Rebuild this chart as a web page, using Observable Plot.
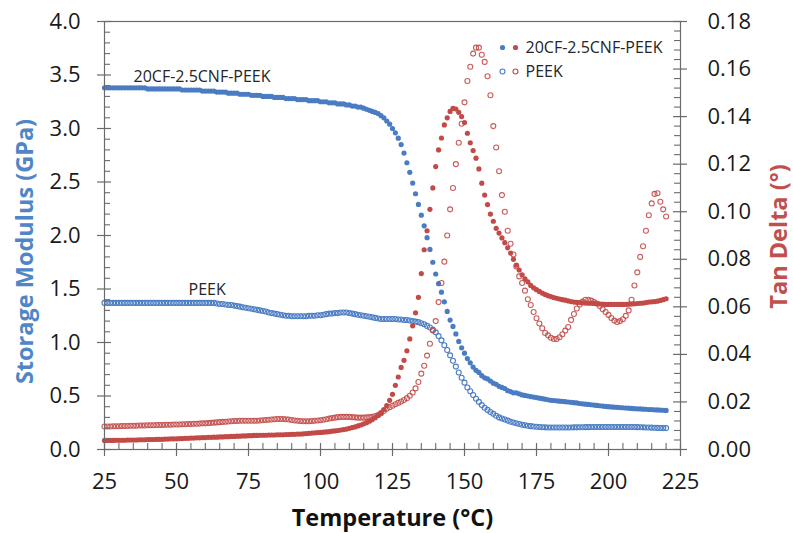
<!DOCTYPE html>
<html>
<head>
<meta charset="utf-8">
<script src="https://cdn.jsdelivr.net/npm/d3@7"></script>
<script src="https://cdn.jsdelivr.net/npm/@observablehq/plot@0.6"></script>
<style>
  html, body { margin: 0; padding: 0; background: #fff; }
  #chart { width: 793px; height: 533px; }
</style>
</head>
<body>
<div id="chart"></div>
<script>
// Temperature (°C)
const temps = [
  25,26,27,28,29,30,31,32,33,34,35,36,37,38,39,40,41,42,43,44,45,46,47,48,49,50,51,52,53,54,
  55,56,57,58,59,60,61,62,63,64,65,66,67,68,69,70,71,72,73,74,75,76,77,78,79,80,81,82,83,84,
  85,86,87,88,89,90,91,92,93,94,95,96,97,98,99,100,101,102,103,104,105,106,107,108,109,110,111,112,113,114,
  115,116,117,118,119,120,121,122,123,124,125,126,127,128,129,130,131,132,133,134,135,136,137,138,139,140,141,142,143,144,
  145,146,147,148,149,150,151,152,153,154,155,156,157,158,159,160,161,162,163,164,165,166,167,168,169,170,171,172,173,174,
  175,176,177,178,179,180,181,182,183,184,185,186,187,188,189,190,191,192,193,194,195,196,197,198,199,200,201,202,203,204,
  205,206,207,208,209,210,211,212,213,214,215,216,217,218,219,220
];

// Storage modulus (GPa) – 20CF-2.5CNF-PEEK
const cnfModulus = [
  3.38,3.38,3.38,3.38,3.38,3.38,3.38,3.38,3.38,3.38,
  3.38,3.38,3.38,3.38,3.38,3.37,3.37,3.37,3.37,3.37,
  3.37,3.37,3.37,3.37,3.37,3.37,3.37,3.36,3.36,3.36,
  3.36,3.36,3.36,3.36,3.35,3.35,3.35,3.35,3.35,3.34,
  3.34,3.34,3.34,3.33,3.33,3.33,3.33,3.32,3.32,3.32,
  3.32,3.31,3.31,3.31,3.31,3.30,3.30,3.30,3.30,3.29,
  3.29,3.29,3.29,3.28,3.28,3.28,3.28,3.27,3.27,3.27,
  3.27,3.26,3.26,3.26,3.26,3.25,3.25,3.25,3.24,3.24,
  3.24,3.23,3.23,3.23,3.22,3.22,3.21,3.21,3.20,3.20,
  3.19,3.18,3.17,3.16,3.15,3.14,3.12,3.10,3.07,3.04,
  3.00,2.96,2.91,2.85,2.77,2.68,2.59,2.49,2.39,2.29,
  2.19,2.09,1.98,1.87,1.75,1.64,1.55,1.47,1.38,1.29,
  1.21,1.15,1.08,1.01,0.95,0.90,0.85,0.81,0.77,0.74,
  0.72,0.69,0.67,0.66,0.64,0.62,0.61,0.59,0.58,0.57,
  0.55,0.54,0.53,0.53,0.52,0.51,0.505,0.50,0.495,0.49,
  0.485,0.48,0.475,0.47,0.465,0.46,0.458,0.455,0.452,0.45,
  0.447,0.444,0.441,0.438,0.435,0.43,0.427,0.424,0.421,0.418,
  0.415,0.412,0.409,0.406,0.403,0.40,0.398,0.396,0.394,0.392,
  0.39,0.388,0.386,0.384,0.382,0.38,0.379,0.377,0.376,0.374,
  0.373,0.371,0.37,0.368,0.367,0.365
];

// Storage modulus (GPa) – PEEK
const peekModulus = [
  1.37,1.37,1.37,1.37,1.37,1.37,1.37,1.37,1.37,1.37,
  1.37,1.37,1.37,1.37,1.37,1.37,1.37,1.37,1.37,1.37,
  1.37,1.37,1.37,1.37,1.37,1.37,1.37,1.37,1.37,1.37,
  1.37,1.37,1.37,1.37,1.37,1.37,1.37,1.37,1.37,1.365,
  1.36,1.36,1.355,1.35,1.35,1.345,1.34,1.335,1.33,1.325,
  1.32,1.315,1.31,1.305,1.30,1.295,1.29,1.28,1.275,1.27,
  1.265,1.26,1.255,1.25,1.25,1.245,1.245,1.245,1.245,1.245,
  1.245,1.25,1.25,1.25,1.255,1.255,1.26,1.265,1.27,1.27,
  1.275,1.275,1.28,1.28,1.28,1.275,1.27,1.265,1.26,1.255,
  1.25,1.245,1.24,1.235,1.23,1.225,1.22,1.22,1.22,1.22,
  1.22,1.22,1.215,1.215,1.21,1.21,1.205,1.20,1.195,1.19,
  1.18,1.17,1.155,1.14,1.12,1.095,1.06,1.02,0.975,0.93,
  0.88,0.83,0.775,0.72,0.67,0.625,0.58,0.545,0.51,0.475,
  0.445,0.415,0.39,0.37,0.35,0.333,0.316,0.30,0.29,0.28,
  0.27,0.26,0.252,0.245,0.238,0.232,0.226,0.222,0.218,0.215,
  0.212,0.21,0.208,0.207,0.206,0.205,0.205,0.205,0.205,0.205,
  0.205,0.206,0.206,0.207,0.207,0.208,0.208,0.209,0.209,0.21,
  0.21,0.21,0.21,0.21,0.21,0.21,0.21,0.21,0.21,0.21,
  0.21,0.21,0.21,0.21,0.21,0.209,0.208,0.207,0.206,0.205,
  0.204,0.203,0.202,0.201,0.20,0.20
];

// Tan delta – 20CF-2.5CNF-PEEK
const cnfTanDelta = [
  0.0038,0.0038,0.0038,0.0038,0.0039,0.0039,0.0039,0.0039,0.0040,0.0040,
  0.0040,0.0040,0.0041,0.0041,0.0041,0.0042,0.0042,0.0042,0.0043,0.0043,
  0.0043,0.0044,0.0044,0.0045,0.0045,0.0045,0.0046,0.0046,0.0047,0.0047,
  0.0048,0.0048,0.0049,0.0049,0.0050,0.0050,0.0051,0.0051,0.0052,0.0052,
  0.0053,0.0053,0.0054,0.0054,0.0055,0.0055,0.0056,0.0056,0.0057,0.0057,
  0.0058,0.0058,0.0059,0.0059,0.0060,0.0060,0.0060,0.0061,0.0061,0.0061,
  0.0062,0.0062,0.0062,0.0063,0.0063,0.0064,0.0064,0.0065,0.0065,0.0066,
  0.0067,0.0068,0.0069,0.0070,0.0071,0.0072,0.0073,0.0074,0.0075,0.0077,
  0.0078,0.0080,0.0082,0.0084,0.0086,0.0089,0.0092,0.0095,0.0099,0.0103,
  0.0108,0.0113,0.0119,0.0126,0.0134,0.0143,0.0154,0.0168,0.0185,0.0207,
  0.0232,0.0270,0.0305,0.0345,0.0375,0.0415,0.0465,0.0520,0.0575,0.0640,
  0.0740,0.0840,0.0920,0.1010,0.1100,0.1190,0.1260,0.1310,0.1365,0.1395,
  0.1422,0.1435,0.1432,0.1418,0.1400,0.1375,0.1330,0.1290,0.1257,0.1225,
  0.1180,0.1120,0.1070,0.1030,0.0990,0.0960,0.0930,0.0910,0.0890,0.0870,
  0.0848,0.0826,0.0800,0.0775,0.0755,0.0735,0.0718,0.0705,0.0690,0.0680,
  0.0672,0.0665,0.0658,0.0652,0.0647,0.0643,0.0639,0.0636,0.0633,0.0630,
  0.0628,0.0625,0.0622,0.0620,0.0619,0.0618,0.0617,0.0616,0.0615,0.0615,
  0.0614,0.0613,0.0612,0.0611,0.0610,0.0610,0.0610,0.0610,0.0610,0.0610,
  0.0610,0.0610,0.0611,0.0612,0.0613,0.0614,0.0615,0.0616,0.0618,0.0620,
  0.0621,0.0622,0.0624,0.0627,0.0630,0.0634
];

// Tan delta – PEEK
const peekTanDelta = [
  0.0097,0.0097,0.0097,0.0098,0.0098,0.0098,0.0099,0.0099,0.0099,0.0100,
  0.0100,0.0100,0.0101,0.0101,0.0101,0.0102,0.0102,0.0102,0.0103,0.0103,
  0.0103,0.0104,0.0104,0.0104,0.0105,0.0105,0.0105,0.0106,0.0106,0.0107,
  0.0107,0.0108,0.0108,0.0109,0.0110,0.0110,0.0111,0.0112,0.0113,0.0114,
  0.0115,0.0116,0.0117,0.0118,0.0119,0.0120,0.0120,0.0121,0.0121,0.0121,
  0.0121,0.0121,0.0121,0.0121,0.0122,0.0123,0.0124,0.0125,0.0126,0.0127,
  0.0128,0.0128,0.0128,0.0127,0.0126,0.0124,0.0122,0.0121,0.0120,0.0119,
  0.0119,0.0119,0.0120,0.0121,0.0122,0.0123,0.0125,0.0127,0.0130,0.0132,
  0.0134,0.0136,0.0137,0.0137,0.0137,0.0137,0.0136,0.0135,0.0134,0.0134,
  0.0134,0.0135,0.0136,0.0138,0.0141,0.0145,0.0152,0.0162,0.0171,0.0178,
  0.0184,0.0190,0.0196,0.0202,0.0208,0.0216,0.0226,0.0240,0.0257,0.0284,
  0.0319,0.0352,0.0395,0.0445,0.0500,0.0540,0.0620,0.0700,0.0790,0.0900,
  0.1010,0.1100,0.1200,0.1290,0.1370,0.1460,0.1550,0.1610,0.1665,0.1690,
  0.1690,0.1660,0.1630,0.1570,0.1490,0.1360,0.1270,0.1170,0.1070,0.1000,
  0.0920,0.0865,0.0820,0.0770,0.0728,0.0700,0.0668,0.0632,0.0608,0.0578,
  0.0552,0.0530,0.0510,0.0490,0.0480,0.0470,0.0465,0.0465,0.0472,0.0485,
  0.0500,0.0515,0.0545,0.0570,0.0593,0.0610,0.0622,0.0630,0.0630,0.0626,
  0.0620,0.0614,0.0603,0.0590,0.0578,0.0566,0.0553,0.0542,0.0536,0.0540,
  0.0548,0.0562,0.0585,0.0630,0.0690,0.0745,0.0810,0.0855,0.0920,0.0985,
  0.1035,0.1075,0.1078,0.1042,0.1010,0.0980
];

// Tick labels
const tempTicks = [25, 50, 75, 100, 125, 150, 175, 200, 225];
const modulusTicks = [0, 0.5, 1.0, 1.5, 2.0, 2.5, 3.0, 3.5, 4.0];
const tanTicks = [0, 0.02, 0.04, 0.06, 0.08, 0.10, 0.12, 0.14, 0.16, 0.18];

const seriesNames = ["20CF-2.5CNF-PEEK", "PEEK"];
const xTitle = "Temperature (°C)";
const yLeftTitle = "Storage Modulus (GPa)";
const yRightTitle = "Tan Delta (°)";

// ---------------------------------------------------------------
const BLUE = "#4a7cc3";
const RED = "#c24a47";
const AXIS = "#6b6b6b";
const K = 4 / 0.18; // tan delta -> left-axis units

const rows = temps.map((t, i) => ({
  t,
  cnfE: cnfModulus[i],
  peekE: peekModulus[i],
  cnfTan: cnfTanDelta[i] * K,
  peekTan: peekTanDelta[i] * K
}));

const minorTemp = d3.range(30, 225, 5).filter(v => v % 25 !== 0);
const minorMod = d3.range(1, 40).filter(v => v % 5 !== 0).map(v => v / 10);
const minorTan = d3.range(1, 45).filter(v => v % 5 !== 0).map(v => v * 0.004 * K);
const tanTicksScaled = tanTicks.map(v => v * K);

const tickFont = 22;
const labelStyle = { textAnchor: "start", lineAnchor: "middle", fontSize: 16, fill: "#262626" };

const chart = Plot.plot({
  width: 793,
  height: 533,
  marginLeft: 104,
  marginRight: 113,
  marginTop: 21,
  marginBottom: 84,
  style: { fontFamily: "'Open Sans', sans-serif", background: "#fff", color: "#1a1a1a" },
  x: { domain: [25, 225] },
  y: { domain: [0, 4] },
  marks: [
    // data
    Plot.dot(rows, { x: "t", y: "peekE", r: 2.5, stroke: BLUE, strokeWidth: 1.1, fill: "none" }),
    Plot.dot(rows, { x: "t", y: "cnfE", r: 2.6, fill: BLUE, stroke: "none" }),
    Plot.dot(rows, { x: "t", y: "cnfTan", r: 2.6, fill: RED, stroke: "none" }),
    Plot.dot(rows, { x: "t", y: "peekTan", r: 2.5, stroke: RED, strokeWidth: 1.1, fill: "none", strokeOpacity: 0.9 }),

    // frame
    Plot.frame({ stroke: AXIS, strokeWidth: 1.2 }),

    // left ticks
    Plot.ruleY(minorMod, { x1: 25, x2: 25, insetRight: -6, stroke: AXIS, strokeWidth: 1.1 }),
    Plot.ruleY(modulusTicks, { x1: 25, x2: 25, insetLeft: -7, insetRight: -7, stroke: AXIS, strokeWidth: 1.2 }),
    // right ticks
    Plot.ruleY(minorTan, { x1: 225, x2: 225, insetLeft: -6, stroke: AXIS, strokeWidth: 1.1 }),
    Plot.ruleY(tanTicksScaled, { x1: 225, x2: 225, insetLeft: -7, insetRight: -7, stroke: AXIS, strokeWidth: 1.2 }),
    // bottom ticks
    Plot.ruleX(minorTemp, { y1: 0, y2: 0, insetTop: -6, stroke: AXIS, strokeWidth: 1.1 }),
    Plot.ruleX(tempTicks, { y1: 0, y2: 0, insetTop: -6, insetBottom: -7, stroke: AXIS, strokeWidth: 1.2 }),

    // tick labels
    Plot.axisY(modulusTicks, { anchor: "left", tickSize: 0, tickPadding: 24, tickFormat: d3.format(".1f"), fontSize: tickFont, label: null, fill: "#1a1a1a" }),
    Plot.axisY(tanTicksScaled, { anchor: "right", tickSize: 0, tickPadding: 27, tickFormat: d => (d / K).toFixed(2), fontSize: tickFont, label: null, fill: "#1a1a1a" }),
    Plot.axisX(tempTicks, { anchor: "bottom", tickSize: 0, tickPadding: 24, fontSize: tickFont, label: null, fill: "#1a1a1a" }),

    // axis titles
    Plot.text([yLeftTitle], { frameAnchor: "left", dx: -79, dy: 16, rotate: -90, textAnchor: "middle", lineAnchor: "middle", fontSize: 23.5, fontWeight: "bold", fill: "#4f86c6" }),
    Plot.text([yRightTitle], { frameAnchor: "right", dx: 99, dy: 1, rotate: -90, textAnchor: "middle", lineAnchor: "middle", fontSize: 23.5, fontWeight: "bold", fill: "#c0504d" }),
    Plot.text([xTitle], { frameAnchor: "bottom", dy: 69, textAnchor: "middle", lineAnchor: "middle", fontSize: 23.5, fontWeight: "bold", fill: "#111" }),

    // curve annotations
    Plot.text([seriesNames[0]], { frameAnchor: "top-left", dx: 29, dy: 55, ...labelStyle }),
    Plot.text([seriesNames[1]], { frameAnchor: "top-left", dx: 84, dy: 268, ...labelStyle }),

    // legend
    Plot.dot([0], { frameAnchor: "top-left", dx: 398, dy: 26, r: 2.6, fill: BLUE }),
    Plot.dot([0], { frameAnchor: "top-left", dx: 411, dy: 26, r: 2.6, fill: RED }),
    Plot.text([seriesNames[0]], { frameAnchor: "top-left", dx: 421, dy: 26, ...labelStyle }),
    Plot.dot([0], { frameAnchor: "top-left", dx: 398, dy: 50, r: 2.5, stroke: BLUE, strokeWidth: 1.1, fill: "none" }),
    Plot.dot([0], { frameAnchor: "top-left", dx: 411, dy: 50, r: 2.5, stroke: RED, strokeWidth: 1.1, fill: "none" }),
    Plot.text([seriesNames[1]], { frameAnchor: "top-left", dx: 421, dy: 50, ...labelStyle })
  ]
});

document.getElementById("chart").appendChild(chart);
</script>
</body>
</html>
